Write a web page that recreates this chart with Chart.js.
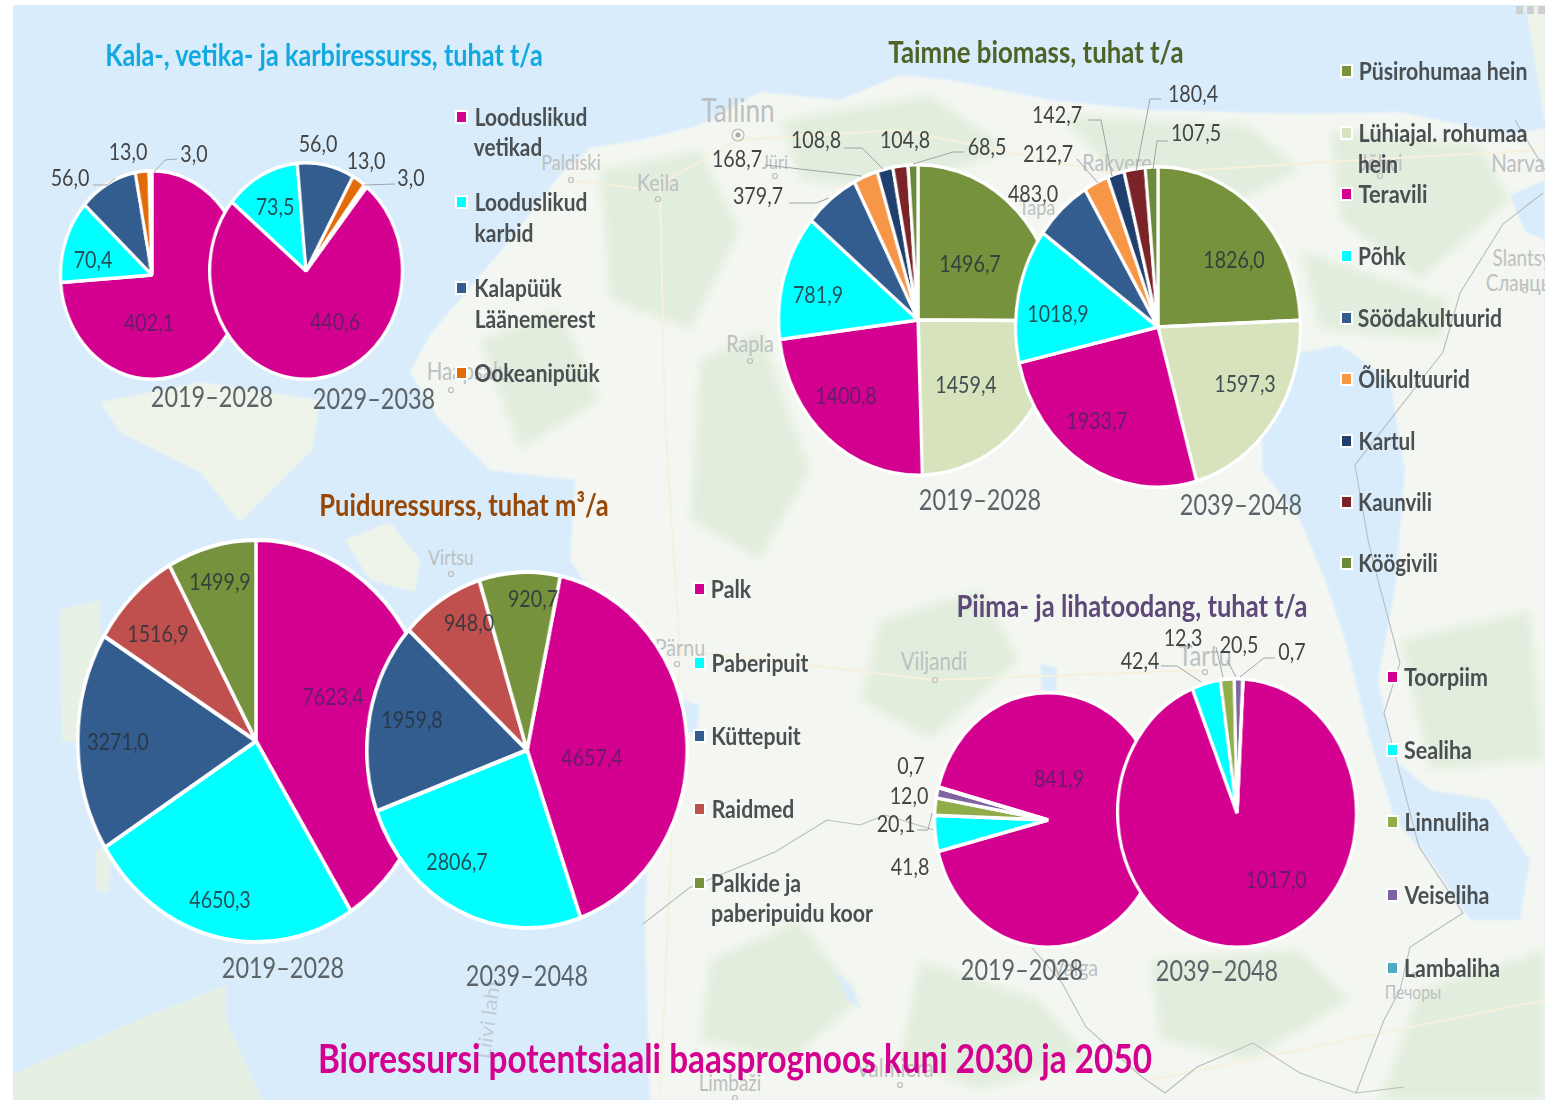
<!DOCTYPE html>
<html lang="et">
<head>
<meta charset="utf-8">
<title>Bioressursi potentsiaali baasprognoos</title>
<script src="https://cdn.jsdelivr.net/npm/chart.js@4"></script>
<style>
  html, body { margin: 0; padding: 0; background: #fff; }
  #page { position: relative; width: 1545px; height: 1100px; overflow: hidden; font-family: Lato, "Open Sans", sans-serif; filter: blur(0.4px); }
  #map, #lines { position: absolute; left: 0; top: 0; }
  canvas { position: absolute; }
  .txt { position: absolute; white-space: nowrap; line-height: 1; }
  .mark { position: absolute; width: 9px; height: 10px; box-shadow: 0 0 0 2px #fff; }
</style>
</head>
<body>
<div id="page">
<svg id="map" width="1545" height="1100" xmlns="http://www.w3.org/2000/svg">
  <defs>
    <filter id="soft" x="-20%" y="-20%" width="140%" height="140%"><feGaussianBlur stdDeviation="5"/></filter>
    <filter id="coast" x="-5%" y="-5%" width="110%" height="110%"><feGaussianBlur stdDeviation="1"/></filter>
  </defs>
  <rect width="1545" height="1100" fill="#d9ecfc"/>
  <g filter="url(#coast)">
    <!-- mainland -->
    <path fill="#f4f7f1" d="M1545 128 L1510 135 L1400 112 L1300 114 L1150 110 L1050 100 L950 80 L900 75 L840 100 L760 92 L700 125 L640 140 L590 148 L560 175 L510 240 L430 335 L410 372 L440 420 L490 470 L575 480 L570 560 L625 640 L650 690 L672 735 L650 790 L645 925 L650 1100 L1545 1100 Z"/>
    <path fill="#eef4ea" d="M1525 0 L1545 0 L1545 125 Z"/>
    <!-- islands -->
    <path fill="#eef4ea" d="M100 402 L200 382 L320 400 L312 450 L240 522 L200 472 L120 432 Z"/>
    <path fill="#eef4ea" d="M345 540 L390 522 L420 560 L415 592 L370 580 Z"/>
    <path fill="#e8f1e5" d="M60 610 L100 600 L102 740 L62 742 Z"/>
    <path fill="#e8f1e5" d="M95 850 L112 845 L108 892 L96 890 Z"/>
    <path fill="#e6f0e2" d="M13 1100 L13 1074 L150 1015 L226 985 L226 1020 L262 1100 Z"/>
  </g>
  <!-- forest patches -->
  <g fill="#e2eedd" filter="url(#soft)">
    <path d="M600 170 L700 150 L740 230 L690 330 L610 300 Z"/>
    <path d="M780 120 L930 95 L1010 150 L900 190 L800 180 Z"/>
    <path d="M1060 115 L1250 125 L1300 170 L1220 210 L1110 170 Z"/>
    <path d="M1330 130 L1480 145 L1510 200 L1420 280 L1340 220 Z"/>
    <path d="M700 360 L760 330 L810 470 L760 560 L690 520 Z"/>
    <path d="M1300 250 L1450 300 L1440 340 L1320 330 Z"/>
    <path d="M710 960 L800 920 L860 1000 L790 1060 L700 1040 Z"/>
    <path d="M880 620 L980 590 L1020 660 L930 740 L860 700 Z"/>
    <path d="M920 960 L1040 1000 L1090 1060 L980 1090 L900 1060 Z"/>
    <path d="M1150 960 L1300 950 L1350 1000 L1250 1060 L1160 1040 Z"/>
    <path d="M1400 640 L1530 610 L1545 760 L1430 770 Z"/>
    <path d="M1420 990 L1545 950 L1545 1100 L1380 1100 Z"/>
    <path d="M480 340 L560 310 L600 400 L520 450 Z"/>
  </g>
  <!-- water on land -->
  <g fill="#d9ecfc" filter="url(#coast)">
    <path d="M1262 400 L1290 355 L1340 345 L1390 380 L1405 470 L1395 590 L1378 680 L1395 760 L1430 790 L1490 800 L1530 860 L1520 920 L1470 920 L1430 860 L1395 820 L1370 740 L1345 640 L1325 580 L1300 520 L1262 470 Z"/>
    <path d="M1510 195 L1545 180 L1545 240 L1525 232 Z"/>
    <path d="M1040 663 L1057 668 L1056 692 L1042 690 Z"/>
    <path d="M835 970 L848 1000 L862 1010 L850 985 Z"/>
    <path d="M681 700 L700 705 L696 735 L683 730 Z"/>
  </g>
  <!-- roads -->
  <g fill="none" stroke="#f7f0dd" stroke-width="2">
    <path d="M570 180 L650 190 L738 140 L900 130 L1120 175 L1360 160 L1540 150"/>
    <path d="M660 190 L665 420 L680 650 L660 1100"/>
    <path d="M680 650 L935 680 L1205 670"/>
    <path d="M1150 1080 L1545 1000"/>
  </g>
  <!-- borders -->
  <g fill="none" stroke="#b8bebe" stroke-width="1.1">
    <path d="M1515 120 L1545 170"/>
    <path d="M1543 193 L1503 224 L1460 293 L1443 352 L1355 465 L1368 540 L1378 580 L1400 663 L1384 713 L1419 847 L1463 913 L1410 947 L1400 990 L1384 1020 L1356 1093"/>
    <path d="M643 924 L689 888 L775 852 L827 820 L860 825 L885 815 L934 830 L1000 910 L1062 983 L1086 1027 L1142 1077 L1165 1093 L1197 1067 L1253 1043 L1300 1073 L1356 1093 L1404 1087"/>
  </g>
  <!-- towns -->
  <g fill="none" stroke="#bbbbbb" stroke-width="1.2">
    <circle cx="738" cy="135" r="6"/><circle cx="571" cy="180" r="2.5"/><circle cx="658" cy="199" r="2.5"/>
    <circle cx="775" cy="176" r="2.5"/><circle cx="750" cy="361" r="2.5"/><circle cx="451" cy="390" r="2.5"/>
    <circle cx="451" cy="574" r="2.5"/><circle cx="677" cy="664" r="2.5"/><circle cx="935" cy="680" r="2.5"/>
    <circle cx="1205" cy="672" r="2.5"/><circle cx="1380" cy="176" r="2.5"/><circle cx="1525" cy="290" r="2.5"/>
    <circle cx="1415" cy="975" r="2.5"/><circle cx="735" cy="1098" r="2.5"/><circle cx="900" cy="1085" r="2.5"/>
  </g>
  <circle cx="738" cy="135" r="2.5" fill="#aaa"/>
  <!-- page frame -->
  <rect x="0" y="0" width="13" height="1100" fill="#fff"/>
  <rect x="0" y="0" width="1545" height="5" fill="#fff"/>
  <g fill="#cfcfcf"><rect x="1516" y="6" width="7" height="8"/><rect x="1527" y="6" width="7" height="8"/><rect x="1538" y="6" width="7" height="8"/></g>
</svg>
</div>

<script>
// data
const fishCategories = ["Looduslikud vetikad", "Looduslikud karbid", "Kalapüük Läänemerest", "Ookeanipüük", ""];
const fish2019 = [402.1, 70.4, 56.0, 13.0, 3.0];
const fish2029 = [440.6, 73.5, 56.0, 13.0, 3.0];

const plantCategories = ["Püsirohumaa hein", "Lühiajal. rohumaa hein", "Teravili", "Põhk", "Söödakultuurid", "Õlikultuurid", "Kartul", "Kaunvili", "Köögivili"];
const plant2019 = [1496.7, 1459.4, 1400.8, 781.9, 379.7, 168.7, 108.8, 104.8, 68.5];
const plant2039 = [1826.0, 1597.3, 1933.7, 1018.9, 483.0, 212.7, 142.7, 180.4, 107.5];

const woodCategories = ["Palk", "Paberipuit", "Küttepuit", "Raidmed", "Palkide ja paberipuidu koor"];
const wood2019 = [7623.4, 4650.3, 3271.0, 1516.9, 1499.9];
const wood2039 = [4657.4, 2806.7, 1959.8, 948.0, 920.7];

const dairyCategories = ["Toorpiim", "Sealiha", "Linnuliha", "Veiseliha", "Lambaliha"];
const dairy2019 = [841.9, 41.8, 20.1, 12.0, 0.7];
const dairy2039 = [1017.0, 42.4, 20.5, 12.3, 0.7];

// colours
const fishColors = ["#d4008f", "#00ffff", "#335c8f", "#e36c0a", "#ffffff"];
const plantColors = ["#76923c", "#d7e3bc", "#d4008f", "#00ffff", "#335c8f", "#f79646", "#1f3f6e", "#7a2428", "#6b8a3a"];
const woodColors = ["#d4008f", "#00ffff", "#335c8f", "#c0504d", "#76923c"];
const dairyColors = ["#d4008f", "#00ffff", "#8fae4a", "#8064a2", "#4bacc6"];

// pies in drawing order: later ones lie over earlier ones
const pies = [
  { labels: fishCategories, values: fish2019, colors: fishColors, cx: 152, cy: 275, rx: 91, ry: 104, rotation: 0, border: 3.5,
    pos: [[149,322],[93,259],[70,177],[128,151],[194,153]], inside: [0,1] },
  { labels: fishCategories, values: fish2029, colors: fishColors, cx: 306, cy: 271, rx: 96, ry: 108, rotation: 39, border: 3.5,
    pos: [[335,321],[275,206],[318,143],[366,160],[411,177]], inside: [0,1] },
  { labels: plantCategories, values: plant2019, colors: plantColors, cx: 918, cy: 320, rx: 139, ry: 155, rotation: 0, border: 3.5,
    pos: [[970,263],[966,384],[846,395],[818,294],[758,195],[737,158],[816,139],[905,139],[987,146]], inside: [0,1,2,3] },
  { labels: plantCategories, values: plant2039, colors: plantColors, cx: 1158, cy: 327, rx: 142, ry: 160, rotation: 0, border: 3.5,
    pos: [[1234,259],[1245,383],[1097,420],[1058,313],[1033,193],[1048,153],[1057,114],[1193,93],[1196,132]], inside: [0,1,2,3] },
  { labels: woodCategories, values: wood2019, colors: woodColors, cx: 256, cy: 741, rx: 178, ry: 201, rotation: 0, border: 4,
    pos: [[333,696],[220,899],[118,741],[158,633],[220,581]], inside: [0,1,2,3,4] },
  { labels: woodCategories, values: wood2039, colors: woodColors, cx: 527, cy: 750, rx: 160, ry: 178, rotation: 12, border: 4,
    pos: [[592,757],[457,861],[412,719],[469,622],[533,598]], inside: [0,1,2,3,4] },
  { labels: dairyCategories, values: dairy2019, colors: dairyColors, cx: 1048, cy: 820, rx: 113, ry: 127, rotation: 285, border: 3.5,
    pos: [[1059,778],[910,866],[896,823],[909,795],[911,765]], inside: [0] },
  { labels: dairyCategories, values: dairy2039, colors: dairyColors, cx: 1237, cy: 813, rx: 119, ry: 134, rotation: 3, border: 3.5,
    pos: [[1276,879],[1140,660],[1239,644],[1183,637],[1292,651]], inside: [0] },
];

const titles = [
  ["Kala-, vetika- ja karbiressurss, tuhat t/a", 105, 543, 55, 31, "#12a9e1"],
  ["Taimne biomass, tuhat t/a", 888, 1183, 52, 30, "#4f6228"],
  ["Puiduressurss, tuhat m³/a", 319, 608, 505, 30, "#974806"],
  ["Piima- ja lihatoodang, tuhat t/a", 956, 1307, 606, 30, "#5f497a"],
  ["Bioressursi potentsiaali baasprognoos kuni 2030 ja 2050", 318, 1152, 1058, 41, "#d4008f"],
];

const years = [
  ["2019–2028", 212, 396], ["2029–2038", 374, 398],
  ["2019–2028", 980, 499], ["2039–2048", 1241, 504],
  ["2019–2028", 283, 967], ["2039–2048", 527, 975],
  ["2019–2028", 1022, 969], ["2039–2048", 1217, 970],
];

// legend rows: colour, marker x, marker y (null = continuation line), text, x0, x1, y
const legendRows = [
  [fishColors[0], 462, 117, "Looduslikud", 474, 587, 117], [null, 0, 0, "vetikad", 474, 542, 147],
  [fishColors[1], 462, 202, "Looduslikud", 474, 587, 202], [null, 0, 0, "karbid", 474, 533, 233],
  [fishColors[2], 462, 288, "Kalapüük", 474, 561, 288], [null, 0, 0, "Läänemerest", 474, 595, 319],
  [fishColors[3], 462, 373, "Ookeanipüük", 474, 599, 373],

  [plantColors[0], 1347, 71, "Püsirohumaa hein", 1358, 1527, 71],
  [plantColors[1], 1347, 133, "Lühiajal. rohumaa", 1358, 1527, 133], [null, 0, 0, "hein", 1358, 1398, 164],
  [plantColors[2], 1347, 194, "Teravili", 1358, 1427, 194],
  [plantColors[3], 1347, 256, "Põhk", 1358, 1406, 256],
  [plantColors[4], 1347, 318, "Söödakultuurid", 1358, 1502, 318],
  [plantColors[5], 1347, 379, "Õlikultuurid", 1358, 1470, 379],
  [plantColors[6], 1347, 441, "Kartul", 1358, 1415, 441],
  [plantColors[7], 1347, 502, "Kaunvili", 1358, 1432, 502],
  [plantColors[8], 1347, 563, "Köögivili", 1358, 1438, 563],

  [woodColors[0], 700, 589, "Palk", 711, 751, 589],
  [woodColors[1], 700, 663, "Paberipuit", 711, 808, 663],
  [woodColors[2], 700, 736, "Küttepuit", 711, 800, 736],
  [woodColors[3], 700, 809, "Raidmed", 711, 794, 809],
  [woodColors[4], 700, 883, "Palkide ja", 711, 801, 883], [null, 0, 0, "paberipuidu koor", 711, 873, 913],

  [dairyColors[0], 1393, 677, "Toorpiim", 1404, 1488, 677],
  [dairyColors[1], 1393, 750, "Sealiha", 1404, 1472, 750],
  [dairyColors[2], 1393, 822, "Linnuliha", 1404, 1489, 822],
  [dairyColors[3], 1393, 895, "Veiseliha", 1404, 1489, 895],
  [dairyColors[4], 1393, 968, "Lambaliha", 1404, 1500, 968],
];

// place names of the background map
const mapNames = [
  ["Tallinn", 738, 111, 32], ["Paldiski", 571, 163, 22], ["Keila", 658, 183, 24], ["Jüri", 775, 162, 20],
  ["Rapla", 750, 344, 24], ["Haapsalu", 468, 371, 25], ["Virtsu", 451, 557, 21], ["Pärnu", 680, 648, 24],
  ["Viljandi", 934, 661, 25], ["Tartu", 1205, 655, 29], ["Rakvere", 1117, 163, 24], ["Narva", 1518, 163, 25],
  ["Jõhvi", 1381, 163, 23], ["Tapa", 1037, 208, 22], ["Slantsy", 1522, 258, 23], ["Сланцы", 1520, 283, 23],
  ["Valga", 1075, 968, 24], ["Печоры", 1413, 992, 19], ["Limbaži", 730, 1083, 23], ["Valmiera", 895, 1068, 25],
];

// leader lines from outside labels to their slices
const leaders = [
  [[154,172],[165,160],[177,159]], [[93,185],[107,185],[115,178]],
  [[364,185],[395,184]],
  [[765,165],[862,176]], [[844,148],[862,148],[883,169]], [[913,164],[953,152],[964,152]], [[789,203],[816,203],[829,198]],
  [[1088,120],[1101,120],[1112,176]], [[1161,99],[1150,99],[1136,171]], [[1168,141],[1157,141],[1153,169]], [[1077,159],[1098,183]],
  [[917,830],[928,830],[932,813]],
  [[1161,666],[1177,666],[1201,682]], [[1275,658],[1264,658],[1240,677]], [[1216,647],[1223,677]], [[1227,660],[1236,677]],
];

const page = document.getElementById("page");

function addText(text, x, y, size, color, bold, width, scale) {
  const el = document.createElement("span");
  el.className = "txt";
  el.textContent = text;
  el.style.left = x + "px";
  el.style.top = (y - 1.5) + "px";
  el.style.fontSize = size + "px";
  el.style.color = color;
  if (bold) el.style.fontWeight = "700";
  page.appendChild(el);
  const sx = width ? width / el.offsetWidth : (scale || 0.82);
  el.style.transform = `translate(-50%, -50%) scaleX(${sx})`;
  return el;
}

function formatValue(v) {
  return v.toFixed(1).replace(".", ",");
}

mapNames.forEach((n) => {
  addText(n[0], n[1], n[2], n[3], "#bcc0c0", false, null, 0.82);
});
addText("Liivi laht", 488, 1020, 22, "#c2ccd6", false, null, 0.9).style.transform += " rotate(-82deg)";

pies.forEach((p) => {
  const size = Math.ceil(2 * p.ry + p.border);
  const cssWidth = size * p.rx / p.ry;
  const canvas = document.createElement("canvas");
  canvas.width = size;
  canvas.height = size;
  canvas.style.width = cssWidth + "px";
  canvas.style.height = size + "px";
  canvas.style.left = (p.cx - cssWidth / 2) + "px";
  canvas.style.top = (p.cy - size / 2) + "px";
  page.appendChild(canvas);

  new Chart(canvas, {
    type: "pie",
    data: {
      labels: p.labels,
      datasets: [{
        data: p.values,
        backgroundColor: p.colors,
        borderColor: "#ffffff",
        borderWidth: p.border,
      }],
    },
    options: {
      responsive: false,
      animation: false,
      rotation: p.rotation,
      layout: { padding: 0 },
      plugins: { legend: { display: false }, tooltip: { enabled: false } },
    },
  });
});

// leader lines
const svgNS = "http://www.w3.org/2000/svg";
const lines = document.createElementNS(svgNS, "svg");
lines.setAttribute("id", "lines");
lines.setAttribute("width", "1545");
lines.setAttribute("height", "1100");
leaders.forEach((l) => {
  const pl = document.createElementNS(svgNS, "polyline");
  pl.setAttribute("points", l.map((q) => q.join(",")).join(" "));
  pl.setAttribute("fill", "none");
  pl.setAttribute("stroke", "#a0a4a4");
  pl.setAttribute("stroke-width", "1");
  lines.appendChild(pl);
});
page.appendChild(lines);

// value labels
pies.forEach((p) => {
  p.values.forEach((v, i) => {
    const inside = p.inside.includes(i);
    const onMagenta = inside && p.colors[i] === "#d4008f";
    const color = onMagenta ? "rgba(60,40,90,0.72)" : inside ? "rgba(40,50,60,0.85)" : "#444";
    addText(formatValue(v), p.pos[i][0], p.pos[i][1] + 1, 24, color, false, null, 0.82);
  });
});

years.forEach((y) => {
  addText(y[0], y[1], y[2], 29, "#5b6468", false, 122);
});

titles.forEach((t) => {
  addText(t[0], (t[1] + t[2]) / 2, t[3], t[4], t[5], true, t[2] - t[1]);
});

legendRows.forEach((r) => {
  if (r[0]) {
    const m = document.createElement("div");
    m.className = "mark";
    m.style.left = (r[1] - 5) + "px";
    m.style.top = (r[2] - 5) + "px";
    m.style.background = r[0];
    page.appendChild(m);
  }
  addText(r[3], (r[4] + r[5]) / 2, r[6], 25, "#4a4f52", true, r[5] - r[4]);
});
</script>
</body>
</html>
